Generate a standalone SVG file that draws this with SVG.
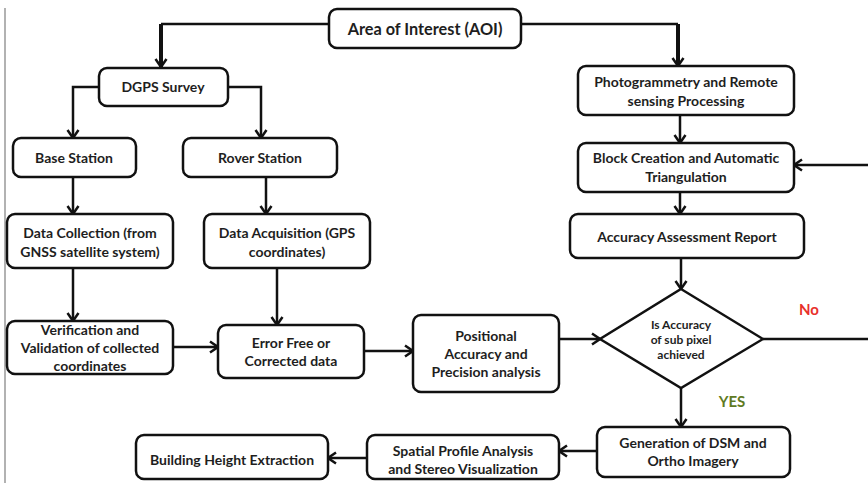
<svg xmlns="http://www.w3.org/2000/svg" width="868" height="483" viewBox="0 0 868 483">
<style>
.box{fill:#fff;stroke:#111;stroke-width:2.5}
.t{font-family:Lato,"Liberation Sans",sans-serif;font-weight:bold;font-size:14px;fill:#1e1e1e;text-anchor:middle}
.s{font-size:12px}
.c{fill:none;stroke:#111;stroke-width:2.5}
.a{marker-end:url(#arr)}
</style>
<defs>
<marker id="arr" markerUnits="userSpaceOnUse" markerWidth="14" markerHeight="14" viewBox="0 0 14 14" refX="12" refY="7" orient="auto">
<path d="M4,1.5 L12,7 L4,12.5" fill="none" stroke="#111" stroke-width="2.5"/>
</marker>
</defs>
<rect width="868" height="483" fill="#fff"/>
<line x1="5" y1="8" x2="5" y2="483" stroke="#999" stroke-width="1.5"/>
<g id="connectors">
<path class="c" d="M329,24 H161"/>
<path class="c a" d="M161,24 V67" style="stroke-width:4"/>
<path class="c" d="M521,24 H678"/>
<path class="c a" d="M678,24 V66" style="stroke-width:4"/>
<path class="c a" d="M99,87 H73 V138"/>
<path class="c a" d="M228,87 H261 V138"/>
<path class="c a" d="M73,177 V214"/>
<path class="c a" d="M266,177 V214"/>
<path class="c a" d="M73,268 V321"/>
<path class="c a" d="M277,268 V325"/>
<path class="c a" d="M173,347 H218"/>
<path class="c a" d="M364,351 H413"/>
<path class="c a" d="M557,339 H600"/>
<path class="c a" d="M680,115 V143"/>
<path class="c a" d="M868,165 H794"/>
<path class="c a" d="M680,192 V214"/>
<path class="c a" d="M681,258 V289"/>
<path class="c" d="M763,339 H868"/>
<path class="c a" d="M681,388 V427"/>
<path class="c a" d="M597,451 H559"/>
<path class="c a" d="M367,458 H328"/>
</g>
<g id="aoi"><rect class="box" x="329" y="9" width="192" height="39" rx="8"/><text class="t" x="425" y="35" style="font-size:16.3px">Area of Interest (AOI)</text></g>
<g id="dgps"><rect class="box" x="99" y="68" width="129" height="38" rx="8"/><text class="t" x="163" y="92">DGPS Survey</text></g>
<g id="base"><rect class="box" x="13" y="138" width="123" height="39" rx="8"/><text class="t" x="74" y="163">Base Station</text></g>
<g id="rover"><rect class="box" x="183" y="138" width="154" height="39" rx="8"/><text class="t" x="260" y="163">Rover Station</text></g>
<g id="datacoll"><rect class="box" x="7" y="214" width="166" height="54" rx="8"/><text class="t" x="90" y="238">Data Collection (from</text><text class="t" x="90" y="257">GNSS satellite system)</text></g>
<g id="dataacq"><rect class="box" x="204" y="214" width="166" height="54" rx="8"/><text class="t" x="287" y="238">Data Acquisition (GPS</text><text class="t" x="287" y="257">coordinates)</text></g>
<g id="verif"><rect class="box" x="7" y="321" width="166" height="53" rx="8"/><text class="t" x="90" y="335">Verification and</text><text class="t" x="90" y="353">Validation of collected</text><text class="t" x="90" y="371">coordinates</text></g>
<g id="errfree"><rect class="box" x="218" y="325" width="146" height="53" rx="8"/><text class="t" x="291" y="348">Error Free or</text><text class="t" x="291" y="366">Corrected data</text></g>
<g id="positional"><rect class="box" x="413" y="315" width="146" height="77" rx="8"/><text class="t" x="486" y="341">Positional</text><text class="t" x="486" y="359">Accuracy and</text><text class="t" x="486" y="377">Precision analysis</text></g>
<g id="photo"><rect class="box" x="578" y="66" width="216" height="49" rx="8"/><text class="t" x="686" y="87">Photogrammetry and Remote</text><text class="t" x="686" y="106">sensing Processing</text></g>
<g id="block"><rect class="box" x="578" y="143" width="216" height="49" rx="8"/><text class="t" x="686" y="163">Block Creation and Automatic</text><text class="t" x="686" y="182">Triangulation</text></g>
<g id="accuracy"><rect class="box" x="570" y="214" width="234" height="44" rx="8"/><text class="t" x="687" y="242">Accuracy Assessment Report</text></g>
<g id="decision"><polygon class="box" points="681,289 763,339 681,388 600,339"/><text class="t s" x="681" y="329">Is Accuracy</text><text class="t s" x="681" y="344">of sub pixel</text><text class="t s" x="681" y="359">achieved</text></g>
<text class="t" x="809" y="315" style="font-size:15px;fill:#e8302a">No</text>
<text class="t" x="732" y="407" style="font-size:15px;fill:#5f7a22">YES</text>
<g id="generation"><rect class="box" x="597" y="427" width="193" height="50" rx="8"/><text class="t" x="693" y="448">Generation of DSM and</text><text class="t" x="693" y="466">Ortho Imagery</text></g>
<g id="spatial"><rect class="box" x="367" y="435" width="192" height="44" rx="8"/><text class="t" x="463" y="456">Spatial Profile Analysis</text><text class="t" x="463" y="474">and Stereo Visualization</text></g>
<g id="building"><rect class="box" x="136" y="435" width="192" height="44" rx="8"/><text class="t" x="232" y="465">Building Height Extraction</text></g>
</svg>
